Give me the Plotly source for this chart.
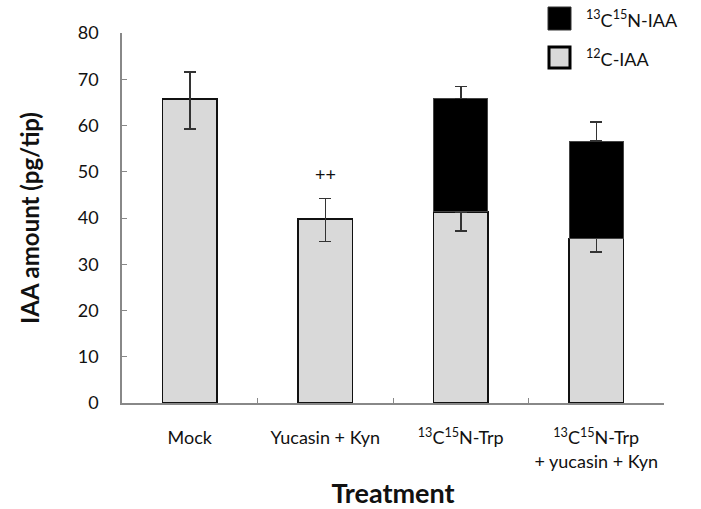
import plotly.graph_objects as go

categories = ["Mock", "Yucasin + Kyn", "<sup>13</sup>C<sup>15</sup>N-Trp",
              "<sup>13</sup>C<sup>15</sup>N-Trp<br>+ yucasin + Kyn"]
c12_iaa = [65.7, 39.8, 41.3, 35.6]
c12_err_plus = [5.9, 4.4, 0, 0]
c12_err_minus = [6.5, 4.9, 4.1, 2.9]
c13_iaa = [None, None, 24.5, 21.0]
c13_err_plus = [None, None, 2.6, 4.2]
y_ticks = [0, 10, 20, 30, 40, 50, 60, 70, 80]
sig_label = "++"
sig_value = 49.6

FONT = "Lato, 'Open Sans', sans-serif"
L, R, T, B = 122, 37, 33, 106
W, H = 701, 509
pw, ph = W - L - R, H - T - B

fig = go.Figure()
fig.add_trace(go.Bar(
    x=categories, y=c12_iaa, name="<sup>12</sup>C-IAA",
    marker=dict(color="#d9d9d9", line=dict(color="#111111", width=1.5)),
    error_y=dict(type="data", symmetric=False, array=c12_err_plus,
                 arrayminus=c12_err_minus, color="#333333", thickness=1.5, width=6),
    width=0.4, showlegend=False))
fig.add_trace(go.Bar(
    x=categories, y=c13_iaa, name="<sup>13</sup>C<sup>15</sup>N-IAA",
    marker=dict(color="#000000", line=dict(color="#444444", width=1)),
    error_y=dict(type="data", symmetric=False, array=c13_err_plus,
                 arrayminus=[0, 0, 0, 0], color="#333333", thickness=1.5, width=6),
    width=0.4, showlegend=False))

fig.add_annotation(x=categories[1], y=sig_value, text=sig_label, showarrow=False,
                   font=dict(size=18, color="#111111", family=FONT))

# manual legend
def px_x(x):
    return (x - L) / pw
def px_y(y):
    return (H - B - y) / ph

fig.add_shape(type="rect", xref="paper", yref="paper",
              x0=px_x(548), x1=px_x(571), y0=px_y(30), y1=px_y(7),
              fillcolor="#000000", line=dict(color="#333333", width=1))
fig.add_shape(type="rect", xref="paper", yref="paper",
              x0=px_x(549), x1=px_x(570), y0=px_y(68), y1=px_y(47),
              fillcolor="#d9d9d9", line=dict(color="#000000", width=3))
fig.add_annotation(xref="paper", yref="paper", x=px_x(584), y=px_y(19),
                   xanchor="left", yanchor="middle", showarrow=False,
                   text="<sup>13</sup>C<sup>15</sup>N-IAA",
                   font=dict(size=18, color="#111111", family=FONT))
fig.add_annotation(xref="paper", yref="paper", x=px_x(584), y=px_y(58),
                   xanchor="left", yanchor="middle", showarrow=False,
                   text="<sup>12</sup>C-IAA",
                   font=dict(size=18, color="#111111", family=FONT))

fig.update_layout(
    barmode="stack",
    width=W, height=H,
    margin=dict(l=L, r=R, t=T, b=B),
    paper_bgcolor="white", plot_bgcolor="white",
    font=dict(family=FONT, color="#111111"),
    xaxis=dict(
        automargin=False,
        showline=True, linecolor="#888888", linewidth=1.5,
        ticks="inside", tickson="boundaries", ticklen=5, tickcolor="#888888",
        tickfont=dict(size=18, family=FONT, color="#111111"),
        ticklabelstandoff=18,
        title=dict(text="<b>Treatment</b>", font=dict(size=27, family=FONT), standoff=18),
    ),
    yaxis=dict(
        automargin=False,
        range=[0, 80], tickvals=y_ticks,
        showline=True, linecolor="#888888", linewidth=1.5,
        ticks="inside", ticklen=5, tickcolor="#888888",
        showgrid=False, zeroline=False,
        tickfont=dict(size=18, family=FONT, color="#111111"),
        ticklabelstandoff=18,
        title=dict(text="<b>IAA amount (pg/tip)</b>", font=dict(size=24, family=FONT), standoff=31),
    ),
)

fig.write_html("out.html", config={"displayModeBar": False},
               post_script="document.body.style.margin='0';")
